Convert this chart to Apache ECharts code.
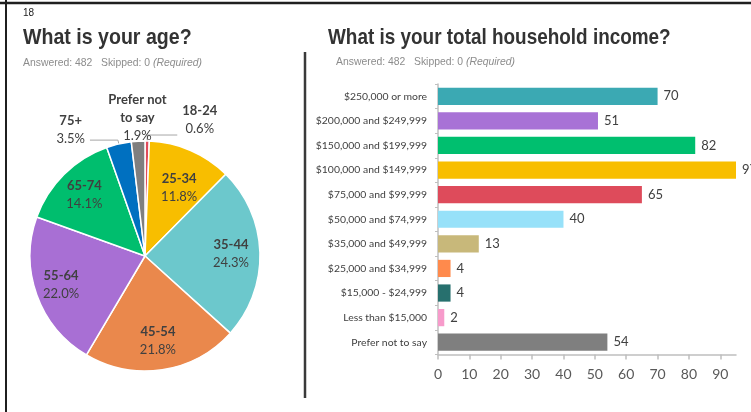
<!DOCTYPE html>
<html>
<head>
<meta charset="utf-8">
<script src="https://cdn.jsdelivr.net/npm/echarts@6/dist/echarts.min.js"></script>
<style>
  html, body { margin: 0; padding: 0; background: #fff; }
  #chart { width: 751px; height: 412px; }
</style>
</head>
<body>
<div id="chart"></div>
<script>
// Age question (pie), percent of 482 answers
const ageGroups = ['18-24', '25-34', '35-44', '45-54', '55-64', '65-74', '75+', 'Prefer not\nto say'];
const agePercents = [0.6, 11.8, 24.3, 21.8, 22.0, 14.1, 3.5, 1.9];
const ageColors = ['#E04B5B', '#F8BE00', '#6CC8CC', '#EA884C', '#A86FD4', '#00BE6E', '#0070C0', '#7F7F7F'];

// Income question (bars), counts
const incomeGroups = [
    '$250,000 or more', '$200,000 and $249,999', '$150,000 and $199,999', '$100,000 and $149,999',
    '$75,000 and $99,999', '$50,000 and $74,999', '$35,000 and $49,999', '$25,000 and $34,999',
    '$15,000 - $24,999', 'Less than $15,000', 'Prefer not to say'
];
const incomeCounts = [70, 51, 82, 97, 65, 40, 13, 4, 4, 2, 54];
const incomeColors = ['#3BA9B3', '#A872D6', '#00BF6F', '#F8BE00', '#DE4B5B', '#97E1F9',
    '#C8B87A', '#FF8A4C', '#27706E', '#F79BCB', '#7F7F7F'];
const countTicks = [0, 10, 20, 30, 40, 50, 60, 70, 80, 90];

const subtitle = '{a|Answered: 482   Skipped: 0 }{i|(Required)}';

// leader lines for the thin slices: [length, length2], null = no line
const outsideLines = { 0: [6, 30], 6: [4, 28], 7: null };
// label nudges (dx, dy) so the pie labels sit where the original has them
const outsideNudge = { 0: [0, -15], 6: [0, -10.5], 7: [42, -15.5] };
const insideNudge = { 1: [0, 11], 4: [-3, 0] };

const chart = echarts.init(document.getElementById('chart'));

function pieLabel(p) {
    const name = p.name.split('\n').map(s => '{n|' + s + '}').join('\n');
    return name + '\n{p|' + p.value.toFixed(1) + '%}';
}

function nudge(table) {
    return function (params) {
        const o = table[params.dataIndex];
        return o ? { dx: o[0], dy: o[1] } : {};
    };
}

function leader(i) {
    const l = outsideLines[i];
    return l ? { show: true, length: l[0], length2: l[1] } : { show: false };
}

const pieRich = {
    n: { fontFamily: 'Lato', fontWeight: 'bold', fontSize: 13, color: '#404040', lineHeight: 18, align: 'center' },
    p: { fontFamily: 'Lato', fontSize: 13, color: '#404040', lineHeight: 18, align: 'center' }
};

const subRich = {
    a: { fontFamily: 'Liberation Sans', fontSize: 10.4, fill: '#8c8c8c' },
    i: { fontFamily: 'Liberation Sans', fontSize: 10.4, fontStyle: 'italic', fill: '#8c8c8c' }
};

const option = {
    animation: false,
    graphic: [
        { type: 'line', shape: { x1: 0, y1: 3, x2: 751, y2: 3 }, style: { stroke: '#1f1f1f', lineWidth: 2.5 } },
        { type: 'line', shape: { x1: 6, y1: 0, x2: 6, y2: 412 }, style: { stroke: '#1f1f1f', lineWidth: 2 } },
        { type: 'line', shape: { x1: 305, y1: 52, x2: 305, y2: 398 }, style: { stroke: '#3a3a3a', lineWidth: 2.5 } },
        { type: 'text', x: 23, y: 13, style: { text: '18', font: '10px "Liberation Sans"', fill: '#222', verticalAlign: 'middle' } },
        {
            type: 'text', x: 23, y: 38, scaleX: 0.89,
            style: { text: 'What is your age?', font: 'bold 22px "Liberation Sans"', fill: '#333', verticalAlign: 'middle' }
        },
        {
            type: 'text', x: 328, y: 37.5, scaleX: 0.86,
            style: { text: 'What is your total household income?', font: 'bold 22px "Liberation Sans"', fill: '#333', verticalAlign: 'middle' }
        },
        { type: 'text', x: 23, y: 63, style: { text: subtitle, verticalAlign: 'middle', rich: subRich } },
        { type: 'text', x: 336, y: 62, style: { text: subtitle, verticalAlign: 'middle', rich: subRich } }
    ],
    grid: { left: 438, top: 84, right: 15, bottom: 57.5 },
    xAxis: {
        type: 'value',
        min: 0,
        max: 95,
        interval: 10,
        splitLine: { show: false },
        axisLine: { show: true, lineStyle: { color: '#BFBFBF', width: 1.5 } },
        axisTick: { show: true, length: 5, customValues: countTicks, lineStyle: { color: '#BFBFBF', width: 1.5 } },
        axisLabel: { customValues: countTicks, margin: 13, fontFamily: 'Lato', fontSize: 14, color: '#595959' }
    },
    yAxis: {
        type: 'category',
        inverse: true,
        data: incomeGroups,
        axisLine: { show: true, lineStyle: { color: '#BFBFBF', width: 1.5 } },
        axisTick: { show: true, length: 3, lineStyle: { color: '#BFBFBF' } },
        axisLabel: { margin: 11, fontFamily: 'Lato', fontSize: 10.4, color: '#404040' }
    },
    series: [
        {
            type: 'bar',
            data: incomeCounts.map((v, i) => ({ value: v, itemStyle: { color: incomeColors[i] } })),
            barCategoryGap: '30%',
            clip: true,
            label: {
                show: true, position: 'right', distance: 6,
                fontFamily: 'Lato', fontSize: 13, color: '#404040'
            }
        },
        {
            // the slices, with outside labels for the thin ones
            type: 'pie',
            center: [145, 256],
            radius: 115,
            startAngle: 90,
            avoidLabelOverlap: false,
            itemStyle: { borderColor: '#fff', borderWidth: 1.5 },
            data: agePercents.map((v, i) => ({
                name: ageGroups[i], value: v,
                itemStyle: { color: ageColors[i] },
                label: { show: v < 5 },
                labelLine: leader(i)
            })),
            label: { position: 'outside', formatter: pieLabel, rich: pieRich },
            labelLine: { length: 8, length2: 8, lineStyle: { color: '#A6A6A6', width: 1 } },
            labelLayout: nudge(outsideNudge)
        },
        {
            // transparent ring, only carries the inside labels a bit further out
            type: 'pie',
            center: [145, 256],
            radius: [51, 115],
            startAngle: 90,
            silent: true,
            itemStyle: { color: 'transparent', borderWidth: 0 },
            data: agePercents.map((v, i) => ({
                name: ageGroups[i], value: v,
                label: { show: v >= 5 }
            })),
            label: { position: 'inside', formatter: pieLabel, rich: pieRich },
            labelLine: { show: false },
            labelLayout: nudge(insideNudge)
        }
    ]
};

chart.setOption(option);
</script>
</body>
</html>
